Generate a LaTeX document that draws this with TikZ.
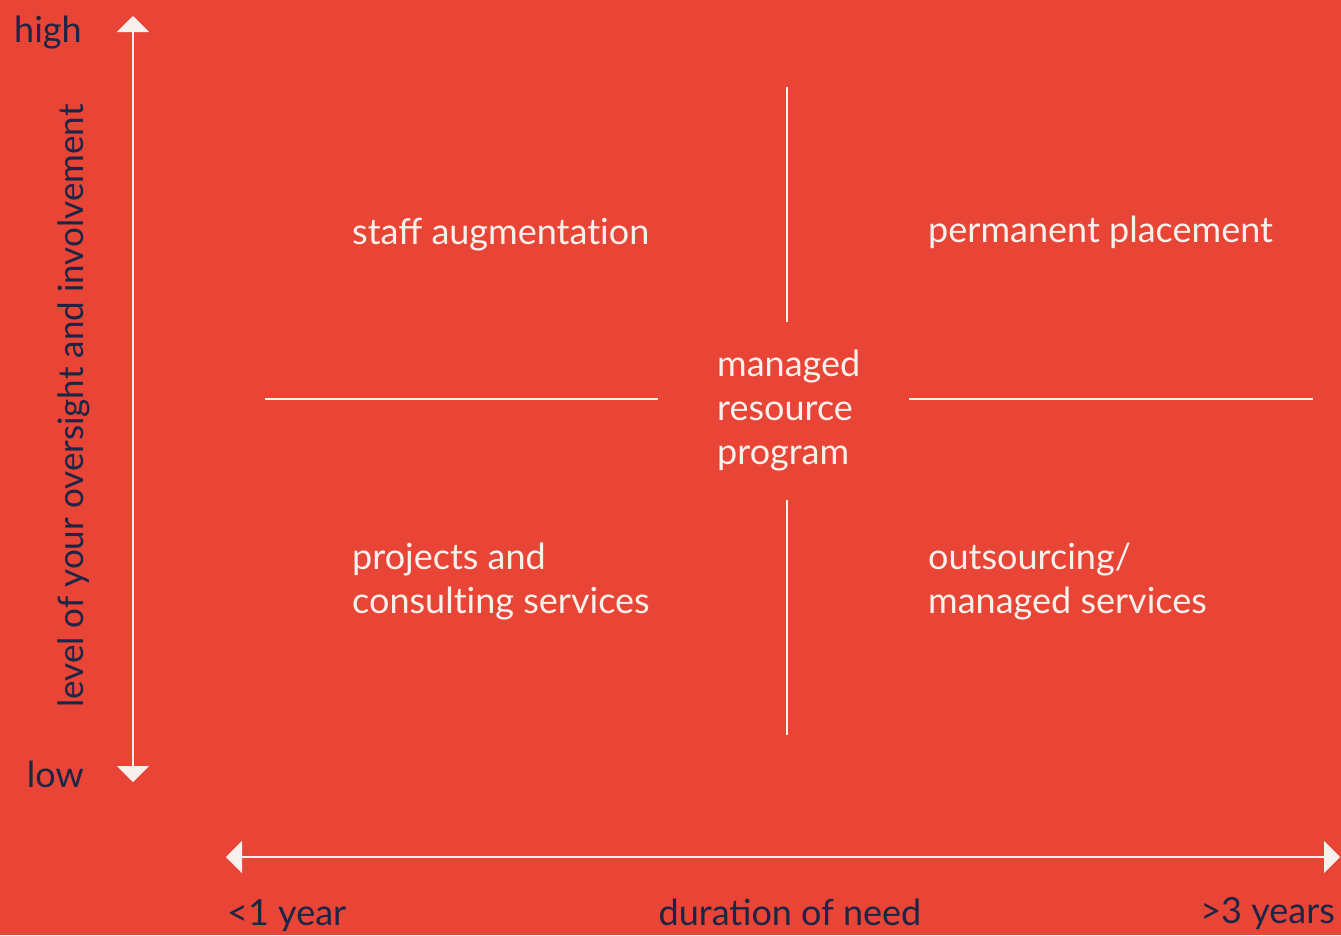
\documentclass[tikz,border=0pt]{standalone}
\usepackage{fontspec}
\setmainfont{Lato}
\usetikzlibrary{arrows.meta}
\definecolor{bg}{HTML}{E84536}
\definecolor{wh}{HTML}{F6F1EC}
\definecolor{navy}{HTML}{1B2545}
\tikzset{
  axisline/.style={draw=wh, line width=2pt, -{Triangle[length=16pt,width=32pt]}},
  divline/.style={draw=wh, line width=1.5pt},
  qlabel/.style={text=wh, font=\fontsize{36}{44}\selectfont, inner sep=0pt, anchor=base west, align=left},
  alabel/.style={text=navy, font=\fontsize{36}{44}\selectfont, inner sep=0pt},
}
\begin{document}
\begin{tikzpicture}[x=1pt,y=-1pt]
\fill[bg] (0,0) rectangle (1341,935);
\useasboundingbox (0,0) rectangle (1341,935);
% axes
\coordinate (vmid) at (133,400);
\coordinate (vtop) at (133,16);
\coordinate (vbot) at (133,782);
\draw[axisline] (vmid) -- (vtop);
\draw[axisline] (vmid) -- (vbot);
\coordinate (hmid) at (780,857);
\coordinate (hleft) at (226,857);
\coordinate (hright) at (1340,857);
\draw[axisline] (hmid) -- (hleft);
\draw[axisline] (hmid) -- (hright);
% dividers
\coordinate (d1a) at (787,87); \coordinate (d1b) at (787,322);
\coordinate (d2a) at (787,500); \coordinate (d2b) at (787,735);
\coordinate (d3a) at (265,399); \coordinate (d3b) at (658,399);
\coordinate (d4a) at (909,399); \coordinate (d4b) at (1313,399);
\draw[divline] (d1a) -- (d1b);
\draw[divline] (d2a) -- (d2b);
\draw[divline] (d3a) -- (d3b);
\draw[divline] (d4a) -- (d4b);
% quadrant labels (base = baseline of last line)
\node[qlabel] (sa) at (352,244) {staff augmentat\kern0pt ion};
\node[qlabel] (pp) at (928,242) {permanent placement};
\node[qlabel] (mrp) at (717,464) {managed\\resource\\program};
\node[qlabel] (pc) at (352,613) {projects and\\consult\kern0pt ing services};
\node[qlabel] (om) at (928,613) {outsourcing/\\managed services};
% axis labels
\node[alabel, anchor=base west] (high) at (14,42) {high};
\node[alabel, anchor=base east] (low) at (84,787) {low};
\node[alabel, anchor=base west, rotate=90, font=\fontsize{35}{44}\selectfont] (ylab) at (83,708) {level of your oversight and involvement};
\node[alabel, anchor=base west] (lt1) at (227,925) {<1 year};
\node[alabel, anchor=base] (dur) at (790,925) {duration of need};
\node[alabel, anchor=base east] (gt3) at (1335,923) {>3 years};
\end{tikzpicture}
\end{document}
